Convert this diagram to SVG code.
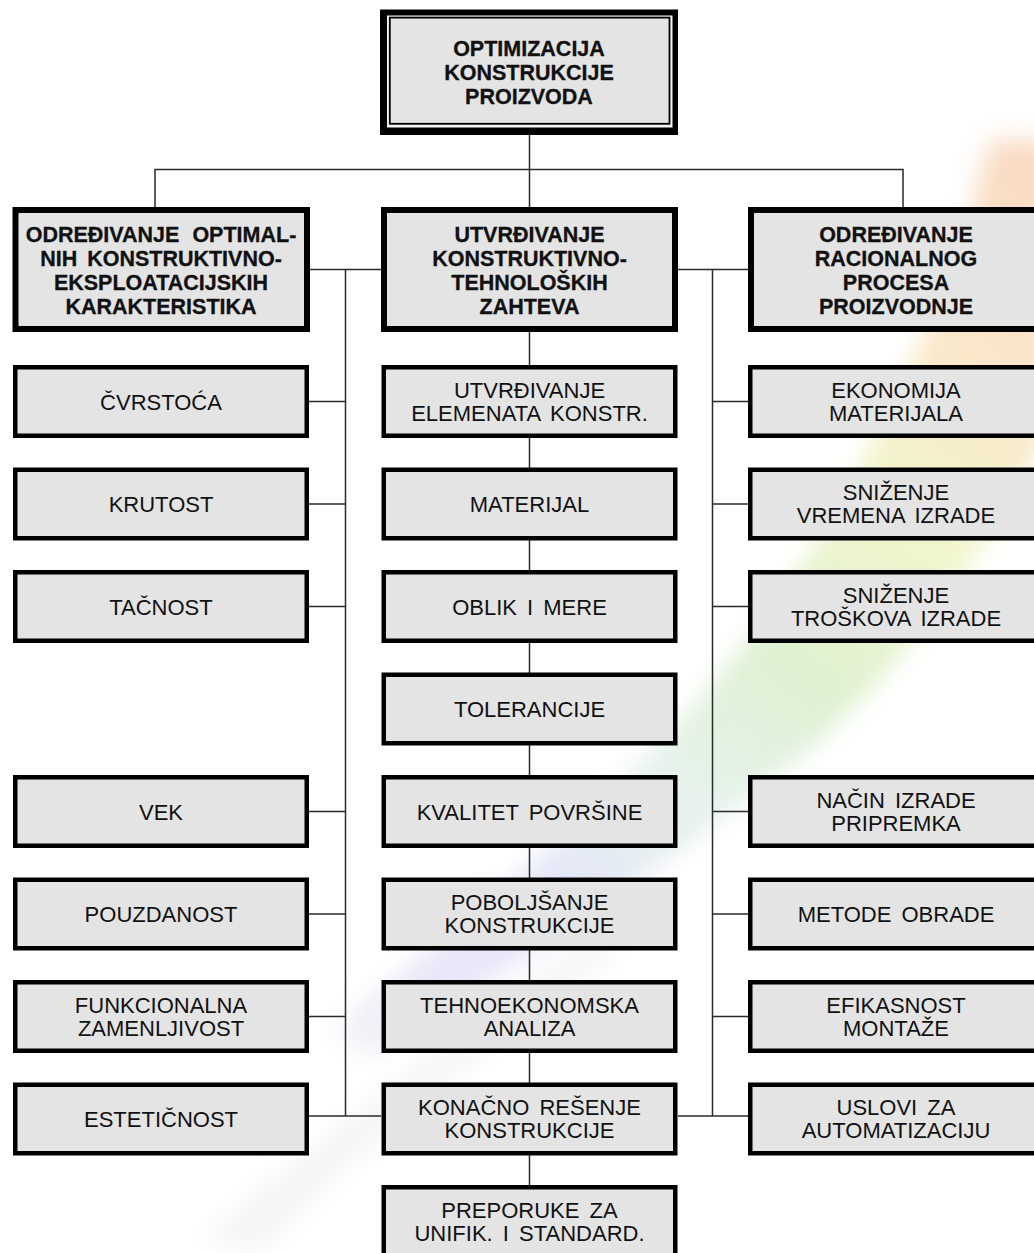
<svg xmlns="http://www.w3.org/2000/svg" width="1034" height="1253" viewBox="0 0 1034 1253">
<defs>
<style>
.bx{fill:#e4e4e4;stroke:#000;stroke-width:4.5}
.hd{fill:#e4e4e4;stroke:#000;stroke-width:6}
.t{font-family:"Liberation Sans",Arial,Helvetica,sans-serif;font-size:22px;fill:#111;text-anchor:middle;word-spacing:4px}
.b{font-family:"Liberation Sans",Arial,Helvetica,sans-serif;font-size:21.5px;font-weight:bold;fill:#111;text-anchor:middle;word-spacing:4px;stroke:#111;stroke-width:0.3}
.ln{stroke:#2a2a2a;stroke-width:1.5;fill:none}
</style>
<linearGradient id="sw" x1="1034" y1="150" x2="330" y2="1080" gradientUnits="userSpaceOnUse">
<stop offset="0" stop-color="#f6c09a"/>
<stop offset="0.18" stop-color="#f6d8a6"/>
<stop offset="0.32" stop-color="#e8f0aa"/>
<stop offset="0.48" stop-color="#c8e8b4"/>
<stop offset="0.62" stop-color="#d6eadf"/>
<stop offset="0.76" stop-color="#d2d6f4"/>
<stop offset="0.88" stop-color="#ddd6f2"/>
<stop offset="1" stop-color="#f2f2f2"/>
</linearGradient>
<filter id="bl" x="-20%" y="-20%" width="140%" height="140%"><feGaussianBlur stdDeviation="12"/></filter>
</defs>
<rect width="1034" height="1253" fill="#fff"/>
<g id="background" filter="url(#bl)">
<path d="M990 140 C950 300 860 500 740 650 C630 790 480 910 330 1030 L370 1060 C520 960 680 860 820 740 C930 640 1000 520 1050 430 L1050 140 Z" fill="url(#sw)" opacity="0.6"/>
<path d="M200 1240 C330 1130 460 1030 600 930 L620 950 C480 1050 360 1150 260 1250 Z" fill="#ececf0" opacity="0.5"/>
</g>
<g id="connectors" class="ln">
<line x1="529.5" y1="135" x2="529.5" y2="1190"/>
<polyline points="155,207 155,169.5 903,169.5 903,207"/>
<line x1="309" y1="269.5" x2="381" y2="269.5"/>
<line x1="678" y1="269.5" x2="748" y2="269.5"/>
<line x1="345.5" y1="269.5" x2="345.5" y2="1116"/>
<line x1="712.5" y1="269.5" x2="712.5" y2="1116"/>
<line x1="309" y1="1116" x2="381" y2="1116"/>
<line x1="678" y1="1116" x2="748" y2="1116"/>
<line x1="309" y1="401.5" x2="345.5" y2="401.5"/>
<line x1="309" y1="504" x2="345.5" y2="504"/>
<line x1="309" y1="606.5" x2="345.5" y2="606.5"/>
<line x1="309" y1="811.5" x2="345.5" y2="811.5"/>
<line x1="309" y1="914" x2="345.5" y2="914"/>
<line x1="309" y1="1016.5" x2="345.5" y2="1016.5"/>
<line x1="712.5" y1="401.5" x2="748" y2="401.5"/>
<line x1="712.5" y1="504" x2="748" y2="504"/>
<line x1="712.5" y1="606.5" x2="748" y2="606.5"/>
<line x1="712.5" y1="811.5" x2="748" y2="811.5"/>
<line x1="712.5" y1="914" x2="748" y2="914"/>
<line x1="712.5" y1="1016.5" x2="748" y2="1016.5"/>
</g>
<g id="root">
<rect x="380" y="9.5" width="298" height="125.5" fill="#000"/>
<rect x="387" y="15.5" width="285.5" height="112" fill="#f4f4f4"/>
<rect x="389.8" y="17.6" width="279.7" height="106.2" fill="#e4e4e4" stroke="#000" stroke-width="1.8"/>
<text class="b" font-size="22" x="529" y="56">OPTIMIZACIJA</text>
<text class="b" font-size="22" x="529" y="80">KONSTRUKCIJE</text>
<text class="b" font-size="22" x="529" y="104">PROIZVODA</text>
</g>
<g id="h-left" transform="translate(12.5,207)">
<rect class="hd" x="3" y="3" width="291.5" height="119"/>
<text class="b" x="148.5" y="35" style="word-spacing:7px">ODREĐIVANJE OPTIMAL-</text>
<text class="b" x="148.5" y="59">NIH KONSTRUKTIVNO-</text>
<text class="b" x="148.5" y="83">EKSPLOATACIJSKIH</text>
<text class="b" x="148.5" y="107">KARAKTERISTIKA</text>
</g>
<g id="h-mid" transform="translate(381,207)">
<rect class="hd" x="3" y="3" width="291" height="119"/>
<text class="b" x="148.5" y="35">UTVRĐIVANJE</text>
<text class="b" x="148.5" y="59">KONSTRUKTIVNO-</text>
<text class="b" x="148.5" y="83">TEHNOLOŠKIH</text>
<text class="b" x="148.5" y="107">ZAHTEVA</text>
</g>
<g id="h-right" transform="translate(748,207)">
<rect class="hd" x="3" y="3" width="291" height="119"/>
<text class="b" x="148" y="35">ODREĐIVANJE</text>
<text class="b" x="148" y="59">RACIONALNOG</text>
<text class="b" x="148" y="83">PROCESA</text>
<text class="b" x="148" y="107">PROIZVODNJE</text>
</g>
<g id="l1" transform="translate(13,365)"><rect class="bx" x="2.25" y="2.25" width="291.5" height="68.5"/><text class="t" x="148" y="44.5">ČVRSTOĆA</text></g>
<g id="l2" transform="translate(13,467.5)"><rect class="bx" x="2.25" y="2.25" width="291.5" height="68.5"/><text class="t" x="148" y="44.5">KRUTOST</text></g>
<g id="l3" transform="translate(13,570)"><rect class="bx" x="2.25" y="2.25" width="291.5" height="68.5"/><text class="t" x="148" y="44.5">TAČNOST</text></g>
<g id="l5" transform="translate(13,775)"><rect class="bx" x="2.25" y="2.25" width="291.5" height="68.5"/><text class="t" x="148" y="44.5">VEK</text></g>
<g id="l6" transform="translate(13,877.5)"><rect class="bx" x="2.25" y="2.25" width="291.5" height="68.5"/><text class="t" x="148" y="44.5">POUZDANOST</text></g>
<g id="l7" transform="translate(13,980)"><rect class="bx" x="2.25" y="2.25" width="291.5" height="68.5"/><text class="t" x="148" y="32.5">FUNKCIONALNA</text><text class="t" x="148" y="55.5">ZAMENLJIVOST</text></g>
<g id="l8" transform="translate(13,1082.5)"><rect class="bx" x="2.25" y="2.25" width="291.5" height="68.5"/><text class="t" x="148" y="44.5">ESTETIČNOST</text></g>
<g id="m1" transform="translate(381.5,365)"><rect class="bx" x="2.25" y="2.25" width="291.5" height="68.5"/><text class="t" x="148" y="32.5">UTVRĐIVANJE</text><text class="t" x="148" y="55.5">ELEMENATA KONSTR.</text></g>
<g id="m2" transform="translate(381.5,467.5)"><rect class="bx" x="2.25" y="2.25" width="291.5" height="68.5"/><text class="t" x="148" y="44.5">MATERIJAL</text></g>
<g id="m3" transform="translate(381.5,570)"><rect class="bx" x="2.25" y="2.25" width="291.5" height="68.5"/><text class="t" x="148" y="44.5">OBLIK I MERE</text></g>
<g id="m4" transform="translate(381.5,672.5)"><rect class="bx" x="2.25" y="2.25" width="291.5" height="68.5"/><text class="t" x="148" y="44.5">TOLERANCIJE</text></g>
<g id="m5" transform="translate(381.5,775)"><rect class="bx" x="2.25" y="2.25" width="291.5" height="68.5"/><text class="t" x="148" y="44.5">KVALITET POVRŠINE</text></g>
<g id="m6" transform="translate(381.5,877.5)"><rect class="bx" x="2.25" y="2.25" width="291.5" height="68.5"/><text class="t" x="148" y="32.5">POBOLJŠANJE</text><text class="t" x="148" y="55.5">KONSTRUKCIJE</text></g>
<g id="m7" transform="translate(381.5,980)"><rect class="bx" x="2.25" y="2.25" width="291.5" height="68.5"/><text class="t" x="148" y="32.5">TEHNOEKONOMSKA</text><text class="t" x="148" y="55.5">ANALIZA</text></g>
<g id="m8" transform="translate(381.5,1082.5)"><rect class="bx" x="2.25" y="2.25" width="291.5" height="68.5"/><text class="t" x="148" y="32.5">KONAČNO REŠENJE</text><text class="t" x="148" y="55.5">KONSTRUKCIJE</text></g>
<g id="m9" transform="translate(381.5,1185)"><rect class="bx" x="2.25" y="2.25" width="291.5" height="68.5"/><text class="t" x="148" y="32.5">PREPORUKE ZA</text><text class="t" x="148" y="55.5">UNIFIK. I STANDARD.</text></g>
<g id="r1" transform="translate(748,365)"><rect class="bx" x="2.25" y="2.25" width="291.5" height="68.5"/><text class="t" x="148" y="32.5">EKONOMIJA</text><text class="t" x="148" y="55.5">MATERIJALA</text></g>
<g id="r2" transform="translate(748,467.5)"><rect class="bx" x="2.25" y="2.25" width="291.5" height="68.5"/><text class="t" x="148" y="32.5">SNIŽENJE</text><text class="t" x="148" y="55.5">VREMENA IZRADE</text></g>
<g id="r3" transform="translate(748,570)"><rect class="bx" x="2.25" y="2.25" width="291.5" height="68.5"/><text class="t" x="148" y="32.5">SNIŽENJE</text><text class="t" x="148" y="55.5">TROŠKOVA IZRADE</text></g>
<g id="r5" transform="translate(748,775)"><rect class="bx" x="2.25" y="2.25" width="291.5" height="68.5"/><text class="t" x="148" y="32.5">NAČIN IZRADE</text><text class="t" x="148" y="55.5">PRIPREMKA</text></g>
<g id="r6" transform="translate(748,877.5)"><rect class="bx" x="2.25" y="2.25" width="291.5" height="68.5"/><text class="t" x="148" y="44.5">METODE OBRADE</text></g>
<g id="r7" transform="translate(748,980)"><rect class="bx" x="2.25" y="2.25" width="291.5" height="68.5"/><text class="t" x="148" y="32.5">EFIKASNOST</text><text class="t" x="148" y="55.5">MONTAŽE</text></g>
<g id="r8" transform="translate(748,1082.5)"><rect class="bx" x="2.25" y="2.25" width="291.5" height="68.5"/><text class="t" x="148" y="32.5">USLOVI ZA</text><text class="t" x="148" y="55.5">AUTOMATIZACIJU</text></g>
</svg>
